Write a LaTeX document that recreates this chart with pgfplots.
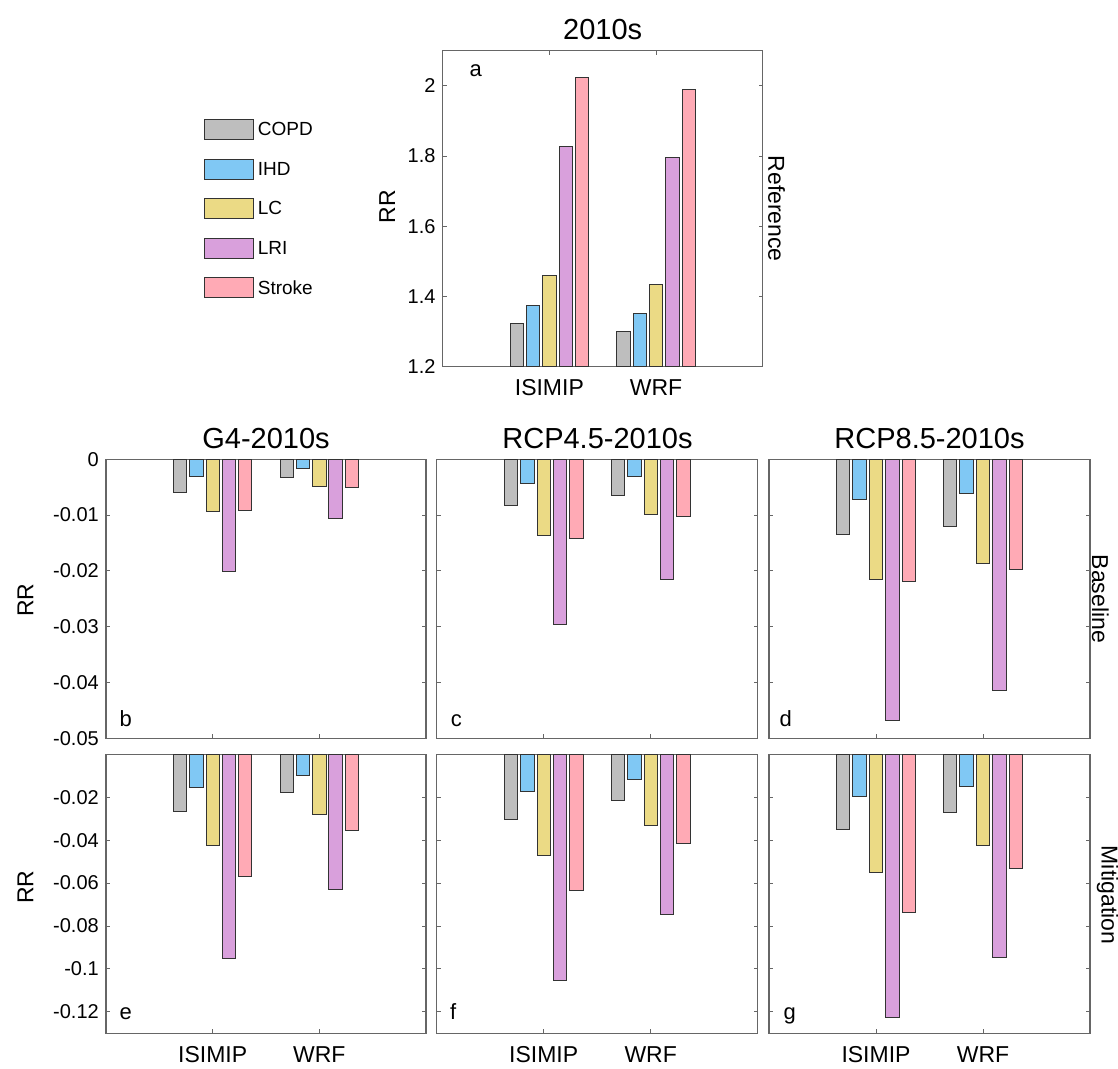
\documentclass[border=0pt]{standalone}
\usepackage{pgfplots}
\usepackage{pgfplotstable}
\pgfplotsset{compat=1.18}
\usepackage{fontspec}
\setmainfont{Liberation Sans}
\definecolor{cgray}{HTML}{BEBEBE}
\definecolor{cblue}{HTML}{80C8F4}
\definecolor{cyel}{HTML}{EBDA85}
\definecolor{cpur}{HTML}{D9A0DC}
\definecolor{cpink}{HTML}{FFAAB5}
\definecolor{edge}{HTML}{333333}
\definecolor{axc}{HTML}{666666}

\pgfplotstableread{
x copd ihd lc lri stroke
1 1.323 1.374 1.460 1.826 2.025
2 1.300 1.351 1.434 1.796 1.990
}\dataA
\pgfplotstableread{
x copd ihd lc lri stroke
1 -0.0059 -0.0031 -0.0093 -0.0201 -0.0091
2 -0.0032 -0.0016 -0.0048 -0.0106 -0.0050
}\dataB
\pgfplotstableread{
x copd ihd lc lri stroke
1 -0.0083 -0.0043 -0.0137 -0.0296 -0.0142
2 -0.0065 -0.0030 -0.0099 -0.0216 -0.0103
}\dataC
\pgfplotstableread{
x copd ihd lc lri stroke
1 -0.0134 -0.0072 -0.0215 -0.0468 -0.0219
2 -0.0121 -0.0062 -0.0187 -0.0415 -0.0197
}\dataD
\pgfplotstableread{
x copd ihd lc lri stroke
1 -0.0268 -0.0153 -0.0425 -0.0953 -0.0571
2 -0.0180 -0.0101 -0.0282 -0.0630 -0.0355
}\dataE
\pgfplotstableread{
x copd ihd lc lri stroke
1 -0.0303 -0.0171 -0.0470 -0.1052 -0.0633
2 -0.0214 -0.0118 -0.0334 -0.0745 -0.0417
}\dataF
\pgfplotstableread{
x copd ihd lc lri stroke
1 -0.0349 -0.0198 -0.0549 -0.1226 -0.0737
2 -0.0270 -0.0150 -0.0427 -0.0948 -0.0531
}\dataG

\pgfplotsset{
  mybar/.style={ybar, bar width=0.125, draw=edge, line width=1pt, fill=#1,
    legend image code/.code={\draw[draw=edge, fill=#1, line width=1pt] (0pt,-10pt) rectangle (48.7pt,10pt);}},
  panel/.style={scale only axis, width=320pt, height=279pt,
    xmin=0, xmax=3, xtick={1,2}, xticklabels={ISIMIP,WRF},
    scaled y ticks=false, scaled x ticks=false,
    axis line style={draw=axc, line width=1.2pt},
    tick style={draw=axc, line width=1pt},
    major tick length=4pt,
    xticklabel style={font=\fontsize{23}{27}\selectfont, inner sep=0pt, anchor=north, yshift=-13pt},
    yticklabel style={font=\fontsize{20}{24}\selectfont, inner sep=0pt, anchor=east, xshift=-7pt},
    anchor=north west, clip=true},
  rowtop/.style={ymin=-0.05, ymax=0, ytick={-0.05,-0.04,-0.03,-0.02,-0.01,0},
    yticklabels={-0.05,-0.04,-0.03,-0.02,-0.01,0}},
  rowbot/.style={ymin=-0.13, ymax=0, ytick={-0.12,-0.10,-0.08,-0.06,-0.04,-0.02},
    yticklabels={-0.12,-0.1,-0.08,-0.06,-0.04,-0.02}},
}
\newcommand{\fivebars}[1]{%
  \addplot[mybar=cgray, bar shift=-0.306] table[x=x,y=copd]{#1};
  \addplot[mybar=cblue, bar shift=-0.153] table[x=x,y=ihd]{#1};
  \addplot[mybar=cyel, bar shift=0] table[x=x,y=lc]{#1};
  \addplot[mybar=cpur, bar shift=0.153] table[x=x,y=lri]{#1};
  \addplot[mybar=cpink, bar shift=0.306] table[x=x,y=stroke]{#1};
}
\newcommand{\tfont}{\fontsize{29}{33}\selectfont}
\newcommand{\lfont}{\fontsize{23}{27}\selectfont}
\newcommand{\pfont}{\fontsize{22}{26}\selectfont}

\begin{document}
\begin{tikzpicture}
\useasboundingbox (0pt,0pt) rectangle (1118pt,-1068pt);

% panel a
\begin{axis}[panel, at={(442.7pt,-50.7pt)}, height=316pt,
  ymin=1.2, ymax=2.1, ytick={1.2,1.4,1.6,1.8,2}, yticklabels={1.2,1.4,1.6,1.8,2},
  legend style={draw=none, fill=none, inner sep=0pt, at={(-0.746,0.783)}, anchor=north west,
    font=\fontsize{19}{22}\selectfont, row sep=18.5pt, column sep=3pt,
    nodes={inner sep=1pt}},
  legend cell align=left]
\fivebars{\dataA}
\legend{COPD,IHD,LC,LRI,Stroke}
\end{axis}

% row 1
\begin{axis}[panel, rowtop, at={(106pt,-459.3pt)}, xticklabels={}]
\fivebars{\dataB}
\end{axis}
\begin{axis}[panel, rowtop, at={(436.7pt,-459.3pt)}, width=321pt, xticklabels={}, yticklabels={}]
\fivebars{\dataC}
\end{axis}
\begin{axis}[panel, rowtop, at={(769pt,-459.3pt)}, width=321pt, xticklabels={}, yticklabels={}]
\fivebars{\dataD}
\end{axis}

% row 2
\begin{axis}[panel, rowbot, at={(106pt,-754.3pt)}]
\fivebars{\dataE}
\end{axis}
\begin{axis}[panel, rowbot, at={(436.7pt,-754.3pt)}, width=321pt, yticklabels={}]
\fivebars{\dataF}
\end{axis}
\begin{axis}[panel, rowbot, at={(769pt,-754.3pt)}, width=321pt, yticklabels={}]
\fivebars{\dataG}
\end{axis}

% titles
\node[anchor=base, font=\tfont] at (602.7pt,-39.3pt) {2010s};
\node[anchor=base, font=\tfont] at (266pt,-448.3pt) {G4-2010s};
\node[anchor=base, font=\tfont] at (597.5pt,-448.3pt) {RCP4.5-2010s};
\node[anchor=base, font=\tfont] at (929.5pt,-448.3pt) {RCP8.5-2010s};

% y labels
\node[anchor=base, rotate=90, font=\lfont] at (395pt,-206.7pt) {RR};
\node[anchor=base, rotate=90, font=\lfont] at (33.3pt,-600pt) {RR};
\node[anchor=base, rotate=90, font=\lfont] at (33.3pt,-887pt) {RR};

% right labels
\node[anchor=base, rotate=-90, font=\lfont] at (768.3pt,-208.7pt) {Reference};
\node[anchor=base, rotate=-90, font=\lfont] at (1092pt,-598.8pt) {Baseline};
\node[anchor=base, rotate=-90, font=\lfont] at (1101.5pt,-895pt) {Mitigation};

% panel letters
\node[anchor=base west, inner sep=0pt, font=\pfont] at (469.3pt,-76pt) {a};
\node[anchor=base west, inner sep=0pt, font=\pfont] at (119.3pt,-726pt) {b};
\node[anchor=base west, inner sep=0pt, font=\pfont] at (450.7pt,-726pt) {c};
\node[anchor=base west, inner sep=0pt, font=\pfont] at (779.3pt,-726pt) {d};
\node[anchor=base west, inner sep=0pt, font=\pfont] at (119.3pt,-1019.3pt) {e};
\node[anchor=base west, inner sep=0pt, font=\pfont] at (450pt,-1019.3pt) {f};
\node[anchor=base west, inner sep=0pt, font=\pfont] at (783.3pt,-1019.3pt) {g};
\end{tikzpicture}
\end{document}
